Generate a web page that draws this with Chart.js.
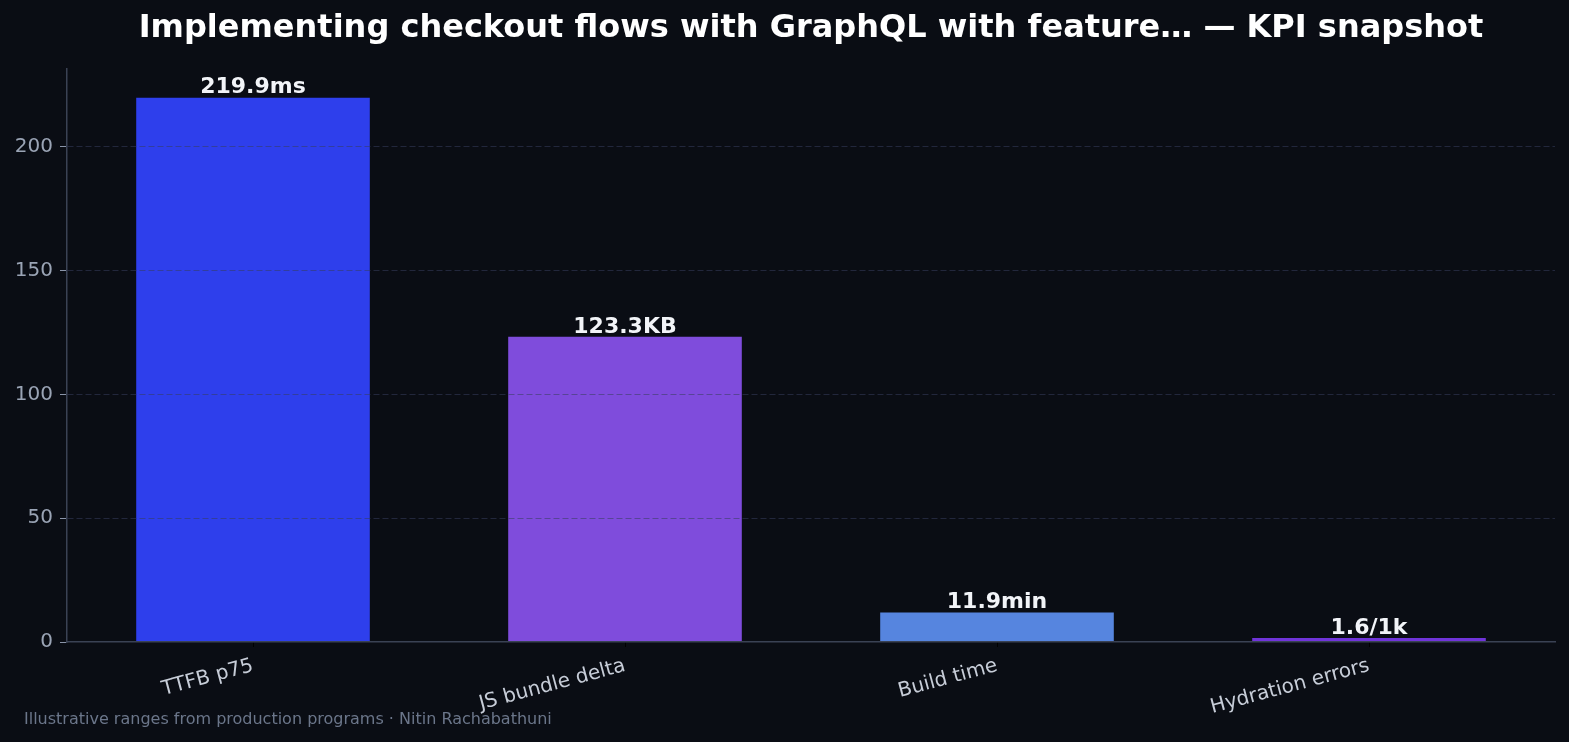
<!DOCTYPE html>
<html>
<head>
<meta charset="utf-8">
<script src="https://cdn.jsdelivr.net/npm/chart.js@4"></script>
<style>
  html, body { margin: 0; padding: 0; background: #0a0d14; }
  #wrap { width: 1569px; height: 742px; }
</style>
</head>
<body>
<div id="wrap"><canvas id="myChart"></canvas></div>
<script>
const categories = ['TTFB p75', 'JS bundle delta', 'Build time', 'Hydration errors'];
const values = [219.9, 123.3, 11.9, 1.6];
const value_labels = ['219.9ms', '123.3KB', '11.9min', '1.6/1k'];
const bar_colors = ['#2e3fec', '#7f4cdc', '#5685df', '#7034da'];
const y_ticks = [0, 50, 100, 150, 200];

const chart_title = 'Implementing checkout flows with GraphQL with feature… — KPI snapshot';
const footer_text = 'Illustrative ranges from production programs · Nitin Rachabathuni';

const FONT = "'DejaVu Sans', sans-serif";

// title, value labels and footer drawn on the canvas
const extras = {
  id: 'extras',
  afterDraw(chart) {
    const ctx = chart.ctx;
    const area = chart.chartArea;
    ctx.save();
    ctx.fillStyle = '#ffffff';
    ctx.font = 'bold 32px ' + FONT;
    ctx.textAlign = 'center';
    ctx.textBaseline = 'middle';
    ctx.fillText(chart_title, (area.left + area.right) / 2, 29);

    const meta = chart.getDatasetMeta(0);
    ctx.font = 'bold 22px ' + FONT;
    ctx.fillStyle = '#f2f4f8';
    ctx.textBaseline = 'bottom';
    meta.data.forEach((bar, i) => {
      ctx.fillText(value_labels[i], bar.x, bar.y + 1);
    });

    ctx.font = '16px ' + FONT;
    ctx.fillStyle = '#6b768a';
    ctx.textAlign = 'left';
    ctx.textBaseline = 'middle';
    ctx.fillText(footer_text, 24, 720);
    ctx.restore();
  }
};

const ctx = document.getElementById('myChart').getContext('2d');
const myChart = new Chart(ctx, {
  type: 'bar',
  data: {
    labels: categories,
    datasets: [{
      data: values,
      backgroundColor: bar_colors,
      borderWidth: 0,
      categoryPercentage: 1,
      barPercentage: 0.628
    }]
  },
  options: {
    responsive: true,
    maintainAspectRatio: false,
    animation: false,
    layout: { padding: { top: 69, right: 14, left: 0, bottom: 0 } },
    plugins: {
      legend: { display: false },
      tooltip: { enabled: false }
    },
    scales: {
      x: {
        offset: true,
        grid: { display: true, offset: false, drawOnChartArea: false, color: '#000000', tickLength: 5 },
        border: { color: '#3a4254', width: 1.5, z: 2 },
        ticks: {
          color: '#c7cdd8',
          font: { family: FONT, size: 20 },
          minRotation: 15,
          maxRotation: 15,
          padding: 7
        },
        afterFit(scale) { scale.height = 100; }
      },
      y: {
        min: 0,
        max: 231.5,
        grid: {
          z: 1,
          color: (c) => (c.tick && c.tick.value === 0) ? 'rgba(0,0,0,0)' : 'rgba(55,62,92,0.55)',
          tickBorderDash: [],
          tickColor: '#8a94a8',
          tickLength: 7
        },
        border: { color: '#3a4254', width: 1.5, dash: [6, 3], z: 2 },
        ticks: {
          stepSize: 50,
          includeBounds: false,
          color: '#9aa4b5',
          font: { family: FONT, size: 20 },
          padding: 7,
          callback: (v) => y_ticks.includes(v) ? v : ''
        },
        afterFit(scale) { scale.width = 67; }
      }
    }
  },
  plugins: [extras]
});
</script>
</body>
</html>
